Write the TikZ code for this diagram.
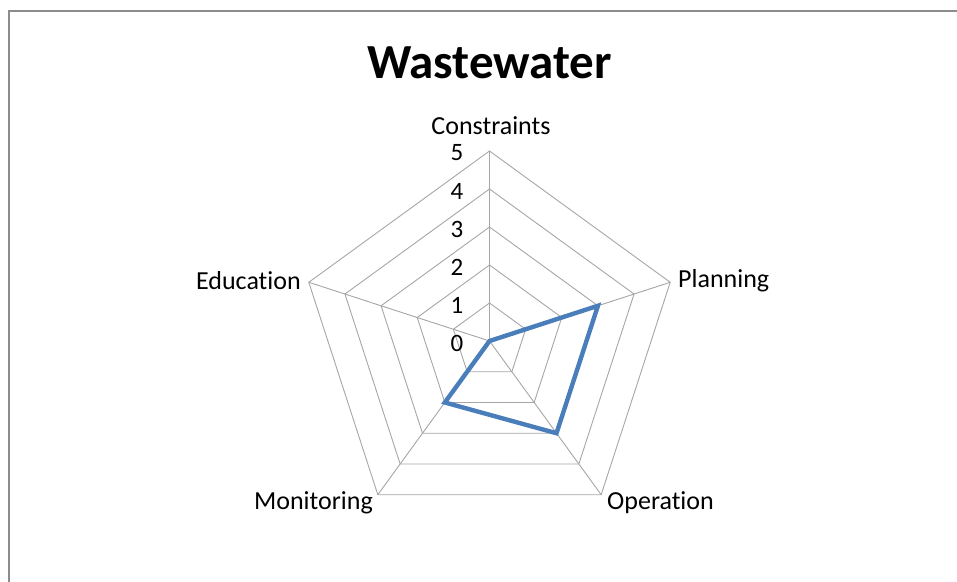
\documentclass[tikz,border=0pt]{standalone}
\usepackage{fontspec}
\setmainfont[Ligatures=NoCommon]{Carlito}
\definecolor{framegray}{HTML}{8C8C8C}
\definecolor{gridgray}{HTML}{A6A6A6}
\definecolor{seriesblue}{HTML}{4A7EBB}

\begin{document}
\begin{tikzpicture}[x=1pt,y=1pt,
grid line/.style={draw=gridgray,line width=0.9pt},
series/.style={draw=seriesblue,line width=4.4pt,line join=miter},
axis label/.style={font=\fontsize{26}{26}\selectfont,inner sep=0pt},
tick label/.style={font=\fontsize{25}{25}\selectfont,inner sep=0pt,anchor=east}]
\useasboundingbox (-489.5,-240) rectangle (467.5,341);
\draw[draw=framegray,line width=2pt] (-480,-270) rectangle (490,330);
\node[font=\bfseries\fontsize{49}{49}\selectfont] (title) at (0,278) {Wastewater};
% rings and spokes
\foreach \r in {1,...,5}
  \draw[grid line] (90:38*\r) -- (18:38*\r) -- (-54:38*\r) -- (-126:38*\r) -- (162:38*\r) -- cycle;
\foreach \a in {90,18,-54,-126,162}
  \draw[grid line] (0,0) -- (\a:190);
\foreach \r in {0,...,5}
  \node[tick label] (tick\r) at (-26,38*\r-2) {\r};
\node[axis label] (constraints) at (1.5,215) {Constraints};
\node[axis label,anchor=west] (planning) at (188.5,60) {Planning};
\node[axis label,anchor=west] (operation) at (117.5,-162) {Operation};
\node[axis label,anchor=east] (monitoring) at (-116.5,-162) {Monitoring};
\node[axis label,anchor=east] (education) at (-188.5,60) {Education};
% scores
\coordinate (s1) at (90:0);
\coordinate (s2) at (18:114);
\coordinate (s3) at (-54:114);
\coordinate (s4) at (-126:76);
\coordinate (s5) at (162:0);
\draw[series] (s1) -- (s2) -- (s3) -- (s4) -- (s5) -- cycle;
\end{tikzpicture}
\end{document}
